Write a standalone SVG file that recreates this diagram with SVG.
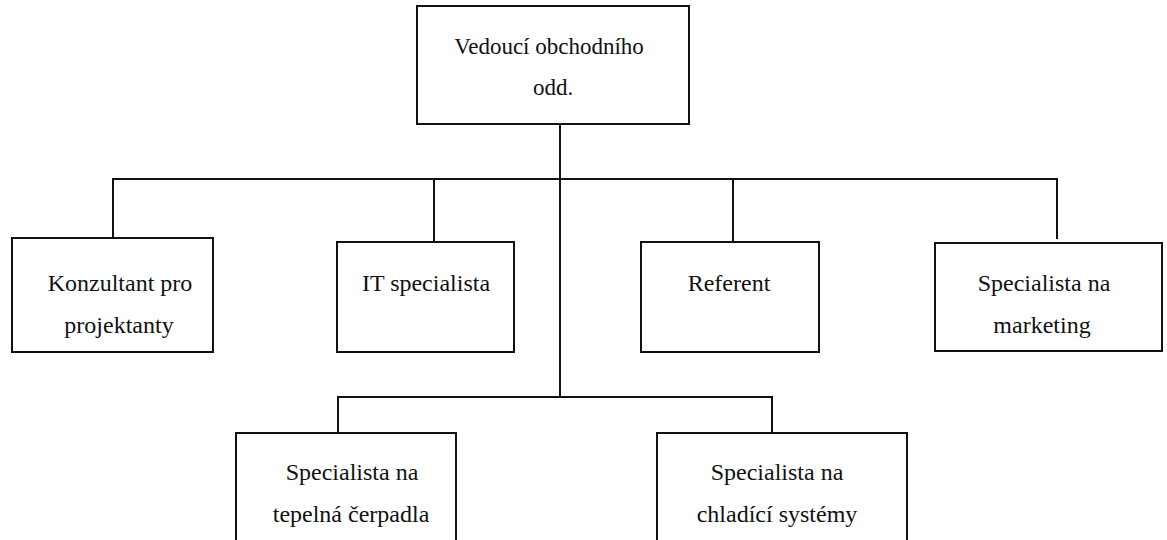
<svg xmlns="http://www.w3.org/2000/svg" width="1167" height="540" viewBox="0 0 1167 540">
  <style>
    .box { fill: #ffffff; stroke: #111111; stroke-width: 2; }
    .wire { fill: none; stroke: #111111; stroke-width: 2; stroke-linecap: square; }
    .lbl { font-family: "Liberation Serif", "Times New Roman", serif; font-size: 24px; fill: #111111; text-anchor: middle; }
    .head { font-size: 23px; }
  </style>
  <rect width="1167" height="540" fill="#ffffff"/>

  <!-- connectors -->
  <g id="connectors">
    <path class="wire" d="M560 124 L560 397"/>
    <path class="wire" d="M113 179 L1057 179"/>
    <path class="wire" d="M113 179 L113 238"/>
    <path class="wire" d="M434 179 L434 242"/>
    <path class="wire" d="M733 179 L733 242"/>
    <path class="wire" d="M1057 179 L1057 238"/>
    <path class="wire" d="M338 397 L772 397"/>
    <path class="wire" d="M338 397 L338 433"/>
    <path class="wire" d="M772 397 L772 433"/>
  </g>

  <g id="vedouci">
    <rect class="box" x="417" y="6" width="272" height="118"/>
    <text class="lbl head" x="549" y="54">Vedoucí obchodního</text>
    <text class="lbl head" x="553" y="95">odd.</text>
  </g>

  <g id="konzultant">
    <rect class="box" x="12" y="238" width="201" height="114"/>
    <text class="lbl" x="120" y="291">Konzultant pro</text>
    <text class="lbl" x="119" y="333">projektanty</text>
  </g>

  <g id="it-specialista">
    <rect class="box" x="337" y="242" width="177" height="110"/>
    <text class="lbl" x="426" y="291">IT specialista</text>
  </g>

  <g id="referent">
    <rect class="box" x="641" y="242" width="178" height="110"/>
    <text class="lbl" x="729" y="291">Referent</text>
  </g>

  <g id="marketing">
    <rect class="box" x="935" y="243" width="227" height="108"/>
    <text class="lbl" x="1044" y="291">Specialista na</text>
    <text class="lbl" x="1042" y="333">marketing</text>
  </g>

  <g id="tepelna-cerpadla">
    <rect class="box" x="236" y="433" width="220" height="115"/>
    <text class="lbl" x="352" y="480">Specialista na</text>
    <text class="lbl" x="351" y="522">tepelná čerpadla</text>
  </g>

  <g id="chladici-systemy">
    <rect class="box" x="657" y="433" width="250" height="115"/>
    <text class="lbl" x="777" y="480">Specialista na</text>
    <text class="lbl" x="777" y="522">chladící systémy</text>
  </g>
</svg>
